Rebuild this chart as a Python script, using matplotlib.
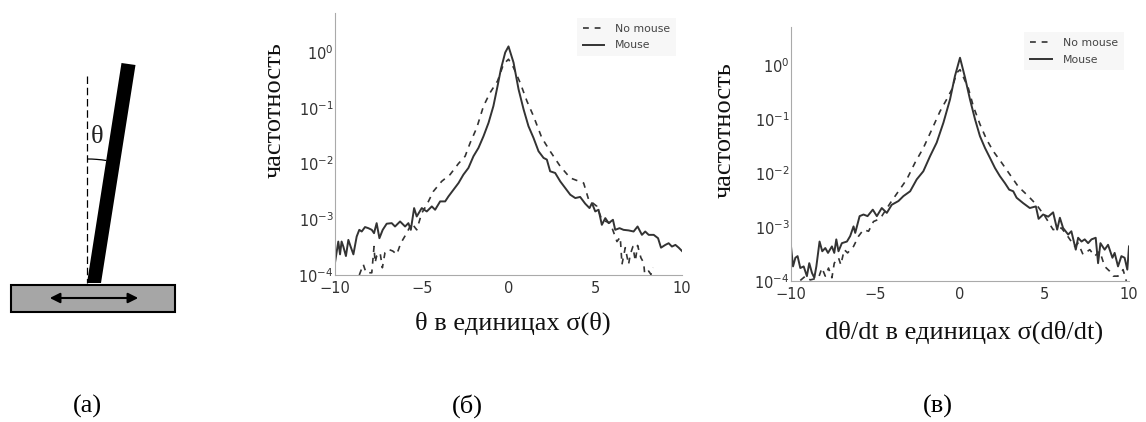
import matplotlib
matplotlib.use("Agg")
import matplotlib.pyplot as plt
from matplotlib.patches import Rectangle, Polygon, Arc
import numpy as np

W, H = 1146, 422

# panel b, theta: x in sigma units, log10 of frequency
b_mouse_x = [-10, -9.81, -9.71, -9.62, -9.52, -9.37, -9.23, -9.10, -8.94, -8.75, -8.60, -8.46, -8.27, -8.08, -7.88,
             -7.75, -7.60, -7.44, -7.25, -7.02, -6.73, -6.54, -6.25, -5.96, -5.77, -5.63, -5.44, -5.29, -5.00, -4.71,
             -4.42, -4.23, -3.94, -3.65, -3.46, -3.17, -2.88, -2.60, -2.31, -2.02, -1.73, -1.44, -1.15, -0.87, -0.63,
             -0.44, -0.19, 0, .29, .58, .87, 1.15, 1.44, 1.73, 2.02, 2.21, 2.40, 2.69, 2.98, 3.27, 3.56, 3.85, 4.13,
             4.42, 4.67, 4.81, 5.00, 5.19, 5.38, 5.58, 5.77, 6.02, 6.15, 6.40, 6.63, 6.92, 7.21, 7.44, 7.69, 7.88,
             8.08, 8.37, 8.62, 8.79, 9.04, 9.23, 9.42, 9.62, 9.81, 10]
b_mouse_log = [-3.78, -3.40, -3.63, -3.40, -3.49, -3.66, -3.37, -3.49, -3.63, -3.31, -3.19, -3.22, -3.14, -3.16, -3.19,
               -3.25, -3.07, -3.34, -3.19, -3.08, -3.07, -3.13, -3.04, -3.13, -3.07, -3.19, -2.80, -2.95, -2.80, -2.86,
               -2.77, -2.83, -2.68, -2.68, -2.59, -2.47, -2.35, -2.20, -2.08, -1.87, -1.72, -1.51, -1.27, -0.97, -0.61,
               -0.31, -0.01, 0.10, -.19, -.67, -1.03, -1.33, -1.54, -1.78, -1.90, -1.93, -2.14, -2.17, -2.32, -2.44,
               -2.56, -2.62, -2.60, -2.72, -2.80, -2.71, -2.86, -2.83, -3.10, -2.98, -3.07, -3.01, -3.19, -3.16, -3.19,
               -3.20, -3.22, -3.13, -3.28, -3.22, -3.28, -3.28, -3.34, -3.51, -3.46, -3.43, -3.49, -3.46, -3.51, -3.57]
b_nomouse_x = [-8.60, -8.37, -8.21, -7.88, -7.75, -7.69, -7.60, -7.40, -7.27, -7.12, -6.92, -6.67, -6.44, -6.21, -5.87,
               -5.58, -5.29, -5.00, -4.71, -4.33, -3.85, -3.37, -2.88, -2.50, -2.21, -1.83, -1.44, -1.06, -0.63, -0.29,
               0, .29, .67, 1.06, 1.44, 1.92, 2.40, 2.98, 3.56, 4.33, 4.62, 5.10, 5.38, 5.87, 6.25, 6.44, 6.48, 6.54,
               6.73, 6.92, 7.02, 7.17, 7.31, 7.44, 7.63, 7.79, 7.85, 8.08, 8.21, 8.33]
b_nomouse_log = [-4.0, -3.81, -3.96, -3.96, -3.49, -3.78, -3.66, -3.60, -3.87, -3.60, -3.54, -3.57, -3.63, -3.43, -3.25,
                 -3.07, -3.19, -2.89, -2.74, -2.50, -2.32, -2.20, -2.00, -1.87, -1.63, -1.36, -0.97, -0.73, -0.52, -0.22,
                 -0.13, -.28, -.55, -.88, -1.15, -1.54, -1.78, -2.05, -2.26, -2.35, -2.65, -2.77, -3.01, -3.07, -3.40,
                 -3.32, -3.51, -3.81, -3.51, -3.81, -3.63, -3.49, -3.75, -3.47, -3.69, -3.78, -3.98, -3.93, -3.99, -3.87]

# panel c, dtheta/dt
c_mouse_x = [-10, -9.88, -9.74, -9.61, -9.45, -9.25, -9.06, -8.92, -8.76, -8.62, -8.50, -8.31, -8.15, -7.97, -7.81,
             -7.58, -7.44, -7.32, -7.19, -6.99, -6.69, -6.50, -6.30, -6.20, -5.94, -5.71, -5.47, -5.16, -4.92, -4.63,
             -4.33, -4.04, -3.64, -3.35, -2.95, -2.56, -2.17, -1.77, -1.38, -0.98, -0.59, -0.30, 0, .30, .59, .89,
             1.18, 1.48, 1.77, 2.07, 2.36, 2.66, 2.91, 3.15, 3.35, 3.74, 4.13, 4.49, 4.65, 4.92, 5.22, 5.51, 5.75,
             5.91, 6.10, 6.40, 6.59, 6.85, 6.99, 7.19, 7.38, 7.58, 7.78, 8.03, 8.17, 8.31, 8.56, 8.76, 9.02, 9.15,
             9.35, 9.55, 9.74, 9.90, 10]
c_mouse_log = [-3.36, -3.73, -3.57, -3.54, -3.76, -3.73, -3.91, -3.67, -3.85, -3.94, -3.73, -3.27, -3.45, -3.39, -3.48,
               -3.36, -3.48, -3.23, -3.45, -3.30, -3.27, -3.17, -2.99, -3.11, -2.80, -2.77, -2.80, -2.68, -2.80, -2.65,
               -2.74, -2.59, -2.52, -2.43, -2.34, -2.12, -1.97, -1.69, -1.44, -1.07, -0.64, -0.21, 0.13, -.24, -.64,
               -1.01, -1.32, -1.54, -1.72, -1.91, -2.06, -2.19, -2.31, -2.34, -2.46, -2.56, -2.65, -2.62, -2.85, -2.77,
               -2.81, -2.73, -3.05, -2.83, -3.02, -3.14, -3.08, -3.42, -3.20, -3.27, -3.23, -3.30, -3.23, -3.20, -3.67,
               -3.30, -3.42, -3.33, -3.57, -3.48, -3.73, -3.54, -3.57, -3.79, -3.36]
c_nomouse_x = [-9.45, -9.15, -8.86, -8.37, -8.17, -7.97, -7.78, -7.58, -7.44, -7.19, -7.05, -6.85, -6.65, -6.30, -6.00,
               -5.71, -5.41, -5.12, -4.82, -4.63, -4.13, -3.64, -3.15, -2.66, -2.17, -1.67, -1.18, -0.79, -0.49, -0.20,
               0, .49, .79, 1.18, 1.57, 1.97, 2.46, 2.95, 3.44, 4.04, 4.53, 5.02, 5.51, 6.00, 6.30, 6.79, 6.99, 7.28,
               7.68, 7.97, 8.27, 8.56, 8.86, 9.06, 9.35, 9.65, 9.84]
c_nomouse_log = [-3.99, -3.91, -3.98, -3.94, -3.76, -3.91, -3.76, -3.94, -3.67, -3.57, -3.70, -3.42, -3.48, -3.36, -3.17,
                 -3.05, -3.08, -2.90, -2.86, -2.80, -2.56, -2.34, -2.12, -1.81, -1.54, -1.20, -0.86, -0.64, -0.46, -0.15,
                 -0.09, -.43, -.77, -1.10, -1.38, -1.60, -1.81, -2.03, -2.25, -2.43, -2.59, -2.80, -3.05, -3.02, -3.14,
                 -3.36, -3.30, -3.51, -3.42, -3.54, -3.45, -3.73, -3.82, -3.91, -3.91, -3.79, -4.0]

x_ticks = [-10, -5, 0, 5, 10]
y_ticks = [1e-4, 1e-3, 1e-2, 1e-1, 1e0]
y_top = 5
serif = "Liberation Serif"
ink = "#333333"


def px_axes(fig, left, top, right, bottom):
    # axes box given in image pixels
    return fig.add_axes([left / W, 1 - bottom / H, (right - left) / W, (bottom - top) / H])


def plot_panel(ax, mouse_x, mouse_log, nomouse_x, nomouse_log, legend_anchor):
    ax.semilogy(nomouse_x, 10.0 ** np.array(nomouse_log), ls=(0, (3.5, 3.5)), lw=1.2, color=ink, label="No mouse")
    ax.semilogy(mouse_x, 10.0 ** np.array(mouse_log), lw=1.4, color=ink, label="Mouse")
    ax.set_xlim(-10, 10)
    ax.set_ylim(1e-4, y_top)
    ax.set_xticks(x_ticks)
    ax.set_yticks(y_ticks)
    ax.minorticks_off()
    ax.tick_params(axis="x", length=0, labelsize=10.5, labelcolor=ink, pad=4)
    ax.tick_params(axis="y", length=0, labelsize=10.5, labelcolor=ink, pad=1)
    ax.spines[["top", "right"]].set_visible(False)
    ax.spines[["left", "bottom"]].set_color("#aaaaaa")
    leg = ax.legend(loc="upper right", bbox_to_anchor=legend_anchor, borderaxespad=0, fontsize=7.8,
                    labelcolor="#444444", facecolor="#f7f7f7", edgecolor="none", framealpha=1, fancybox=False,
                    borderpad=0.55, labelspacing=0.6, handlelength=2.0, handletextpad=1.0)
    return leg


fig = plt.figure(figsize=(W / 100, H / 100), dpi=100)

ax_b = px_axes(fig, 335, 13, 682, 275)
plot_panel(ax_b, b_mouse_x, b_mouse_log, b_nomouse_x, b_nomouse_log, (0.983, 0.981))
ax_c = px_axes(fig, 791, 27, 1129, 281)
plot_panel(ax_c, c_mouse_x, c_mouse_log, c_nomouse_x, c_nomouse_log, (0.985, 0.980))

# overlay in image pixels for the sketch and the loose captions
over = fig.add_axes([0, 0, 1, 1], zorder=5)
over.set_xlim(0, W)
over.set_ylim(H, 0)
over.axis("off")

# sketch (a): cart with pendulum
over.add_patch(Rectangle((11, 285), 164, 27, facecolor="#a6a6a6", edgecolor="black", lw=1.5))
over.plot([87, 87], [76, 283], color="black", lw=0.9, ls=(0, (6, 3)))
over.add_patch(Polygon([(87, 283), (101, 283), (135.5, 65), (121.5, 63)], closed=True, facecolor="black", edgecolor="none"))
over.add_patch(Arc((87, 283), 248, 248, theta1=-90, theta2=-81, color="black", lw=0.9))
over.annotate("", xy=(141, 298), xytext=(47, 298), arrowprops=dict(arrowstyle="<|-|>", color="black", lw=1.5, mutation_scale=15))
over.text(97, 137, "θ", family=serif, fontsize=19, ha="center", va="center", color="#222222")

# captions
over.text(275, 110, "частотность", family=serif, fontsize=19, rotation=90, ha="center", va="center", color="#111111")
over.text(725, 130, "частотность", family=serif, fontsize=19, rotation=90, ha="center", va="center", color="#111111")
over.text(513, 323, "θ в единицах σ(θ)", family=serif, fontsize=19, ha="center", va="center", color="#111111")
over.text(964, 332, "dθ/dt в единицах σ(dθ/dt)", family=serif, fontsize=19, ha="center", va="center", color="#111111")
over.text(87, 406, "(а)", family=serif, fontsize=19, ha="center", va="center")
over.text(467, 406, "(б)", family=serif, fontsize=19, ha="center", va="center")
over.text(938, 406, "(в)", family=serif, fontsize=19, ha="center", va="center")

fig.savefig("out.png", dpi=100)
